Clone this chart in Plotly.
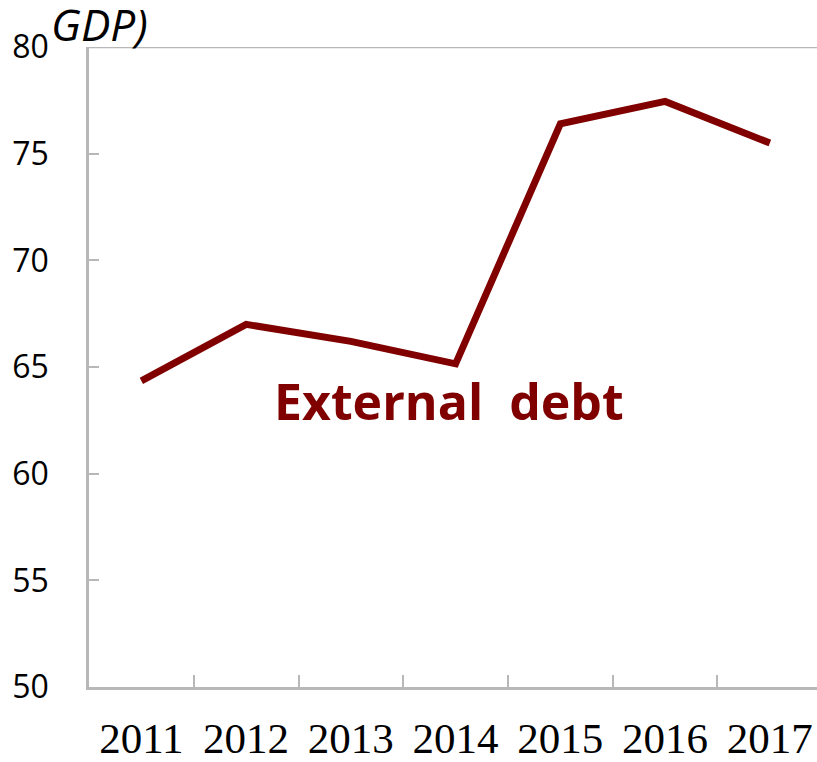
import plotly.graph_objects as go

years = ["2011", "2012", "2013", "2014", "2015", "2016", "2017"]
external_debt = [64.35, 67.0, 66.2, 65.15, 76.4, 77.45, 75.5]

y_ticks = [50, 55, 60, 65, 70, 75, 80]

DEBT_RED = "#800000"
AXIS_GREY = "#b8b8b8"

fig = go.Figure()
fig.add_trace(go.Scatter(
    x=years,
    y=external_debt,
    mode="lines",
    line=dict(color=DEBT_RED, width=7),
    showlegend=False,
    hoverinfo="skip",
))

# series label placed inside the plot
fig.add_annotation(
    x=2.94, y=63.4, xref="x", yref="y",
    text="<b>External  debt</b>",
    showarrow=False,
    font=dict(family="Open Sans", size=50, color=DEBT_RED),
    xanchor="center", yanchor="middle",
)

# unit caption (partially clipped) above the value axis
fig.add_annotation(
    x=-0.055, y=1.036, xref="paper", yref="paper",
    text="<i>GDP)</i>",
    showarrow=False,
    font=dict(family="Open Sans", size=44, color="black"),
    xanchor="left", yanchor="middle",
)

# top frame line
fig.add_shape(
    type="line", xref="paper", yref="y",
    x0=0, x1=1, y0=80, y1=80,
    line=dict(color=AXIS_GREY, width=2.5),
)

fig.update_layout(
    width=817, height=762,
    margin=dict(l=89, r=0, t=47, b=75, pad=0, autoexpand=False),
    paper_bgcolor="white",
    plot_bgcolor="white",
    xaxis=dict(
        type="category",
        range=[-0.5, 6.45],
        automargin=False,
        showgrid=False,
        zeroline=False,
        showline=True,
        linecolor=AXIS_GREY,
        linewidth=2.5,
        ticks="inside",
        tickson="boundaries",
        ticklen=12,
        tickwidth=2,
        tickcolor=AXIS_GREY,
        ticklabelstandoff=12,
        tickfont=dict(family="Liberation Serif", size=43, color="black"),
    ),
    yaxis=dict(
        range=[50, 80],
        tickvals=y_ticks,
        automargin=False,
        showgrid=False,
        zeroline=False,
        showline=True,
        linecolor=AXIS_GREY,
        linewidth=2.5,
        ticks="inside",
        ticklen=10,
        tickwidth=2,
        tickcolor=AXIS_GREY,
        ticklabelstandoff=31,
        tickfont=dict(family="Open Sans", size=32, color="black"),
    ),
)

fig.write_html("out.html")
